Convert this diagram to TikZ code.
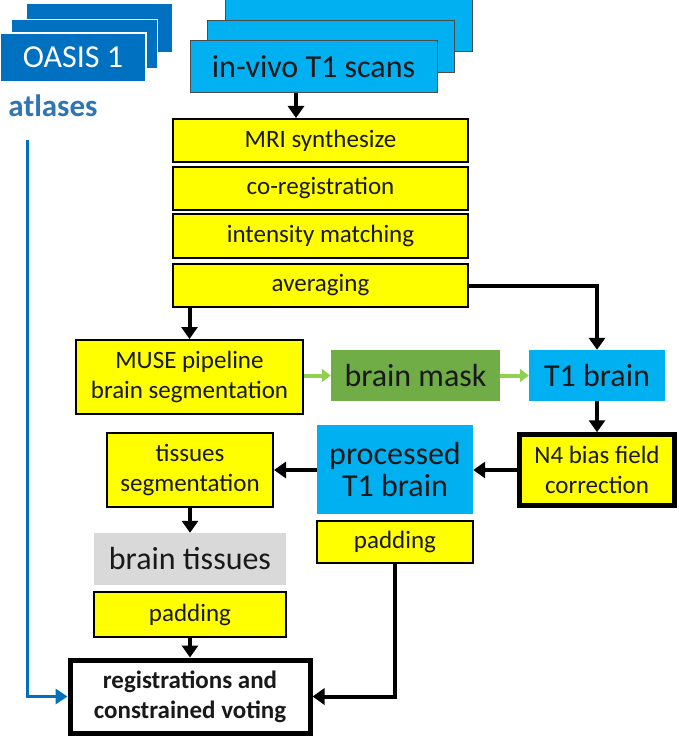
\documentclass[tikz,border=0pt]{standalone}
\usepackage{fontspec}
\setmainfont{Carlito}
\usetikzlibrary{arrows.meta,positioning}
\definecolor{skyb}{HTML}{00B0F0}
\definecolor{darkb}{HTML}{0070C0}
\definecolor{atlb}{HTML}{2E75B6}
\definecolor{ylw}{HTML}{FFFF00}
\definecolor{grn}{HTML}{70AD47}
\definecolor{lgrn}{HTML}{92D050}
\definecolor{gry}{HTML}{D9D9D9}
\tikzset{
  base/.style={inner sep=0pt, align=center, text=black!90},
  oas/.style={base, fill=darkb, draw=white, line width=1.5pt, minimum width=146pt, minimum height=49pt, text=white, font=\fontsize{32}{36}\selectfont},
  inv/.style={base, fill=skyb, draw=black!70, line width=1pt, minimum width=247pt, minimum height=52pt, font=\fontsize{32}{36}\selectfont},
  ybox/.style={base, fill=ylw, draw=black, line width=2pt, font=\fontsize{25}{30}\selectfont},
  bigtxt/.style={base, font=\fontsize{32}{32}\selectfont},
  arr/.style={line width=4pt, -{Triangle[length=12pt,width=16pt]}},
  garr/.style={line width=4pt, draw=lgrn, -{Triangle[length=9pt,width=13pt]}, lgrn},
  barr/.style={line width=3.5pt, draw=darkb, -{Triangle[length=12pt,width=15pt]}, darkb}
}
\begin{document}
\begin{tikzpicture}[x=1pt,y=-1pt]
\useasboundingbox (0,0) rectangle (679,738);
% OASIS stack
\node[oas] (oas3) at (99.5,28) {};
\node[oas] (oas2) at (84.5,44) {};
\node[oas] (oas1) at (73,57.5) {OASIS 1};
\node[base, text=atlb, font=\fontsize{31}{34}\selectfont\bfseries] (atl) at (53,106) {atlases};
% in-vivo stack
\node[inv] (inv3) at (348.5,26) {};
\node[inv] (inv2) at (330.5,47) {};
\node[inv] (inv1) at (313.5,67) {in-vivo T1 scans};
% yellow column
\node[ybox, minimum width=295pt, minimum height=43pt] (mri) at (320.5,140.5) {MRI synthesize};
\node[ybox, minimum width=295pt, minimum height=43pt] (coreg) at (320.5,188.5) {co-registration};
\node[ybox, minimum width=295pt, minimum height=44pt] (inten) at (320.5,236) {intensity matching};
\node[ybox, minimum width=295pt, minimum height=43pt] (avg) at (320.5,285.5) {averaging};
% middle row
\node[ybox, minimum width=227pt, minimum height=74pt] (muse) at (189.5,377) {MUSE pipeline\\brain segmentation};
\node[bigtxt, fill=grn, minimum width=169pt, minimum height=51pt] (mask) at (415.5,375.5) {brain mask};
\node[bigtxt, fill=skyb, minimum width=136pt, minimum height=51pt] (t1b) at (597,375.5) {T1 brain};
% next row
\node[ybox, line width=4.5pt, minimum width=155pt, minimum height=71pt] (n4) at (597,470) {N4 bias field\\correction};
\node[bigtxt, fill=skyb, minimum width=156pt, minimum height=89pt] (proc) at (395,469.5) {processed\\T1 brain};
\node[ybox, minimum width=166pt, minimum height=74pt] (tis) at (190,470) {tissues\\segmentation};
\node[ybox, minimum width=156pt, minimum height=42pt] (padr) at (395,542) {padding};
\node[bigtxt, fill=gry, minimum width=192pt, minimum height=52pt] (btis) at (190,559) {brain tissues};
\node[ybox, minimum width=192pt, minimum height=45pt] (padl) at (190,614.5) {padding};
\node[base, fill=white, draw=black, line width=5pt, minimum width=240pt, minimum height=73pt, font=\fontsize{25}{30}\selectfont\bfseries] (reg) at (190,696.5) {registrations and\\constrained voting};
% connectors
\coordinate (bstart) at (27.5,140);
\draw[barr] (bstart) |- (reg.west);
\draw[arr] ([xshift=-17.5pt]inv1.south) -- ([xshift=-17.5pt]inv1.south |- mri.north);
\draw[arr] (avg.east) -| (t1b.north);
\draw[arr] (avg.south -| muse.north) -- (muse.north);
\draw[garr] (muse.east |- mask.west) -- (mask.west);
\draw[garr] (mask.east) -- (t1b.west);
\draw[arr] (t1b.south) -- (n4.north);
\draw[arr] (n4.west) -- (proc.east |- n4.west);
\draw[arr] (proc.west |- tis.east) -- (tis.east);
\draw[arr] (tis.south) -- (btis.north);
\draw[arr] (padl.south) -- (reg.north);
\draw[arr] (padr.south) |- (reg.east);
\end{tikzpicture}
\end{document}
